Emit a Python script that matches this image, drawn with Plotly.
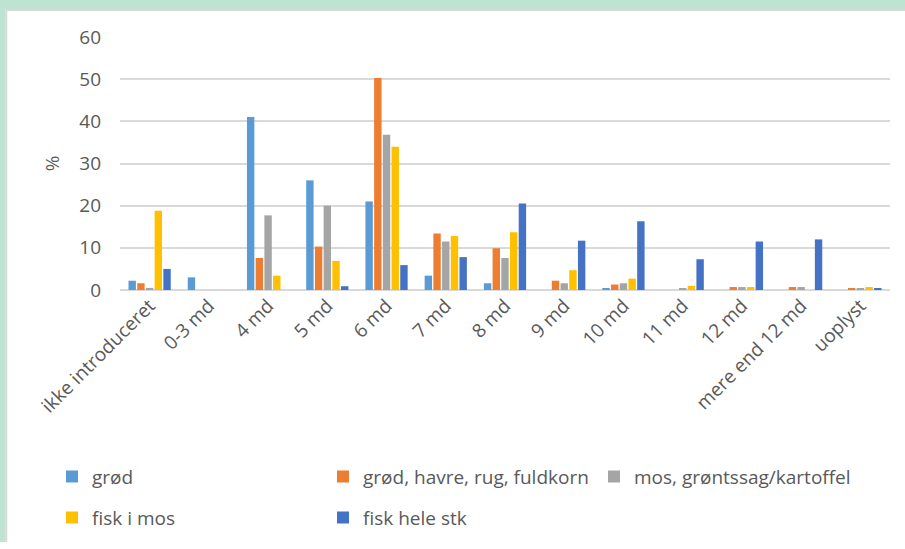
import plotly.graph_objects as go

# Age at introduction of each food type (share of children, %)
categories = ["ikke introduceret", "0-3 md", "4 md", "5 md", "6 md", "7 md", "8 md",
              "9 md", "10 md", "11 md", "12 md", "mere end 12 md", "uoplyst"]

grod = [2.2, 3.0, 41.0, 26.0, 21.0, 3.4, 1.6, 0, 0.4, 0, 0, 0, 0]
grod_fuldkorn = [1.6, 0, 7.6, 10.3, 50.3, 13.4, 9.9, 2.2, 1.3, 0, 0.7, 0.7, 0.4]
mos_gront = [0.5, 0, 17.7, 20.0, 36.8, 11.5, 7.6, 1.6, 1.6, 0.4, 0.7, 0.7, 0.4]
fisk_mos = [18.8, 0, 3.4, 6.9, 34.0, 12.8, 13.7, 4.7, 2.7, 1.0, 0.7, 0, 0.7]
fisk_hele = [5.0, 0, 0, 0.9, 5.9, 7.8, 20.5, 11.7, 16.3, 7.3, 11.5, 12.0, 0.4]

series_names = ["grød", "grød, havre, rug, fuldkorn", "mos, grøntssag/kartoffel",
                "fisk i mos", "fisk hele stk"]
series_values = [grod, grod_fuldkorn, mos_gront, fisk_mos, fisk_hele]
series_colors = ["#5B9BD5", "#ED7D31", "#A5A5A5", "#FFC000", "#4472C4"]
series_legend = ["legend", "legend", "legend", "legend2", "legend2"]

y_ticks = [0, 10, 20, 30, 40, 50, 60]

W, H = 905, 549
ML, MR, MT, MB = 120, 15, 37, 253
PW, PH = W - ML - MR, H - MT - MB


def px_x(px):
    return (px - ML) / PW


def px_y(py):
    return (MT + PH - py) / PH


FONT = "Open Sans"
TXT = "#595959"

fig = go.Figure()
for name, vals, col, lg in zip(series_names, series_values, series_colors, series_legend):
    fig.add_trace(go.Bar(
        x=categories, y=vals, name=name, legend=lg,
        marker=dict(color=col, line=dict(width=0)),
    ))

# frame: green strips on the left and top edge with a thin grey inner line
shapes = [
    dict(type="rect", xref="paper", yref="paper", layer="below",
         x0=px_x(-5), x1=px_x(5.5), y0=px_y(H + 5), y1=px_y(-5),
         fillcolor="#BFE3D2", line=dict(width=0)),
    dict(type="rect", xref="paper", yref="paper", layer="below",
         x0=px_x(-5), x1=px_x(W + 5), y0=px_y(8.5), y1=px_y(-5),
         fillcolor="#BFE3D2", line=dict(width=0)),
    dict(type="line", xref="paper", yref="paper", layer="below",
         x0=px_x(6.3), x1=px_x(6.3), y0=px_y(9), y1=px_y(H + 5),
         line=dict(color="#D9D9D9", width=2)),
    dict(type="line", xref="paper", yref="paper", layer="below",
         x0=px_x(5.5), x1=px_x(W + 5), y0=px_y(9.3), y1=px_y(9.3),
         line=dict(color="#D9D9D9", width=2)),
]

legend_common = dict(
    orientation="h", xanchor="left", yanchor="middle",
    font=dict(family=FONT, size=19, color=TXT),
    bgcolor="rgba(0,0,0,0)", borderwidth=0,
    entrywidth=226, entrywidthmode="pixels",
    itemwidth=30, tracegroupgap=0, traceorder="normal",
)

fig.update_layout(
    width=W, height=H,
    margin=dict(l=ML, r=MR, t=MT, b=MB, pad=0),
    paper_bgcolor="white", plot_bgcolor="rgba(0,0,0,0)",
    barmode="group", bargap=0.265, bargroupgap=0.15,
    font=dict(family=FONT, color=TXT),
    shapes=shapes,
    legend=dict(x=px_x(52), y=px_y(487), **legend_common),
    legend2=dict(x=px_x(52), y=px_y(529), **legend_common),
    xaxis=dict(
        type="category", categoryorder="array", categoryarray=categories,
        tickangle=-45, tickfont=dict(family=FONT, size=19, color=TXT),
        showgrid=False, showline=False, zeroline=False, ticks="",
    ),
    yaxis=dict(
        range=[0, 60], tickvals=y_ticks, ticktext=[str(v) for v in y_ticks],
        tickfont=dict(family=FONT, size=19, color=TXT),
        showgrid=True, gridcolor="#D9D9D9", gridwidth=1.5,
        zeroline=True, zerolinecolor="#D9D9D9", zerolinewidth=1.5,
        showline=False, ticks="", ticklabelstandoff=18,
        title=dict(text="%", font=dict(family=FONT, size=19, color=TXT), standoff=14),
    ),
)

fig.write_html("out.html")
